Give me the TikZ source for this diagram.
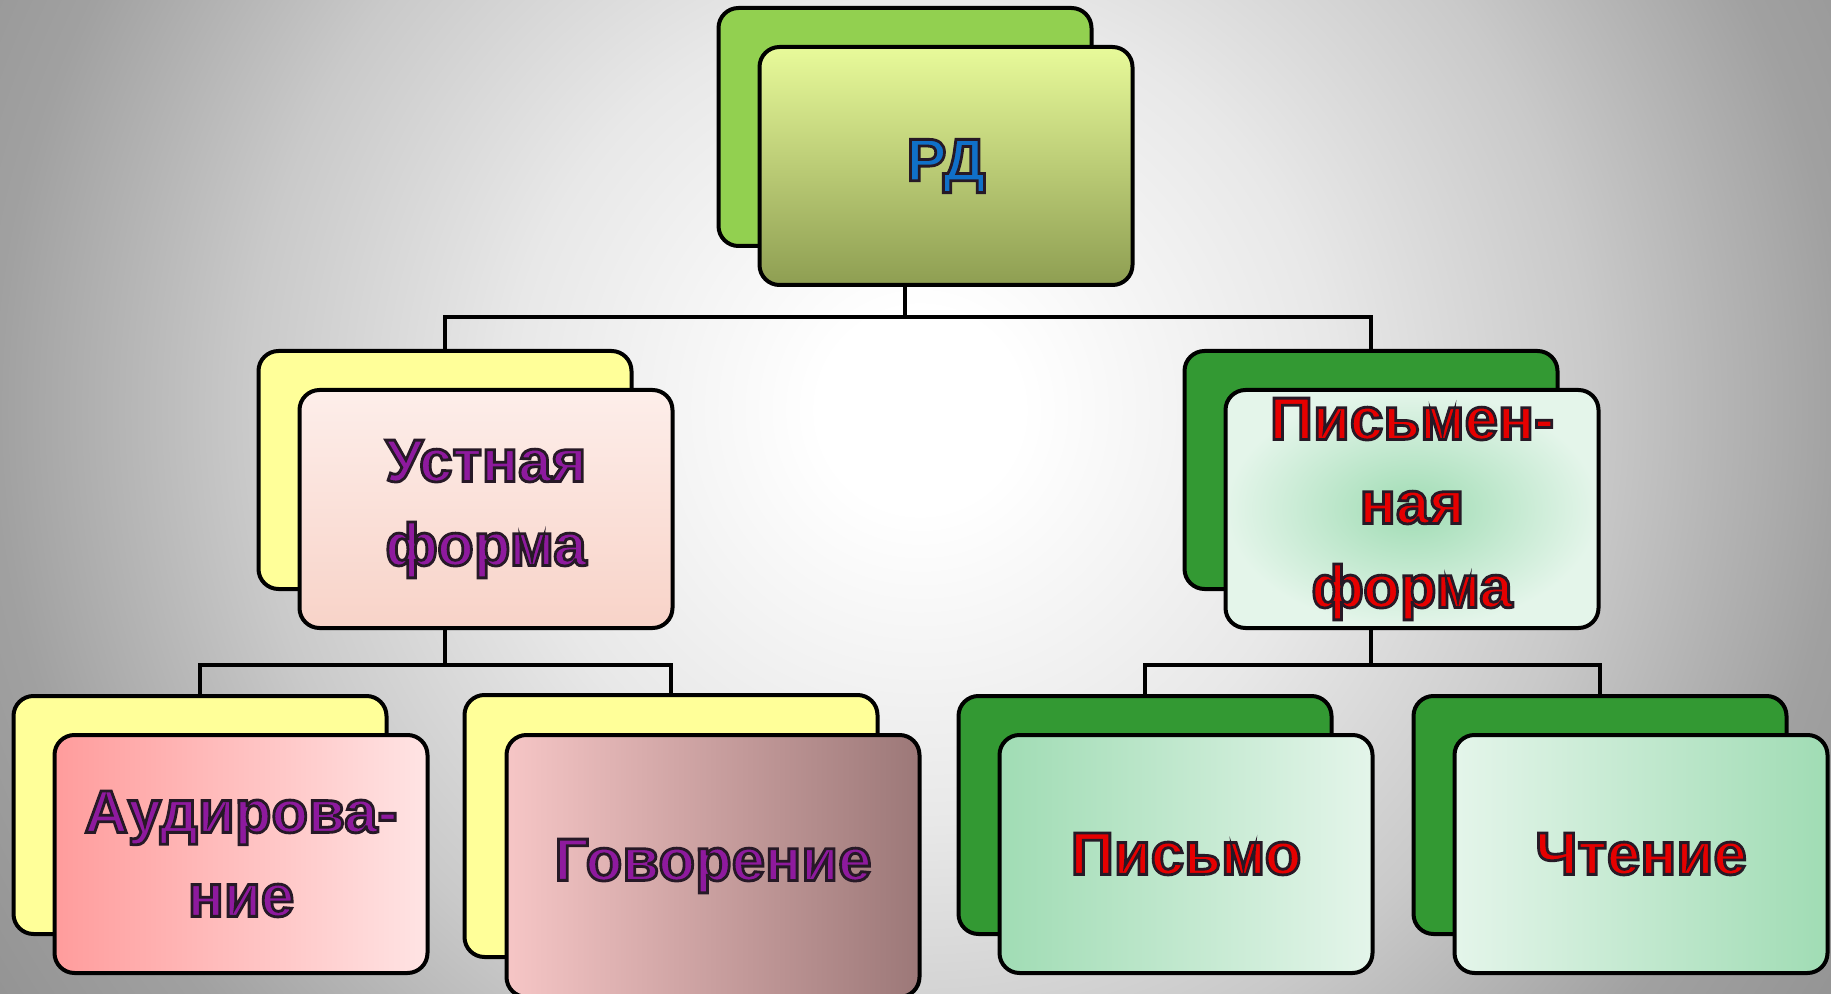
\documentclass[tikz,border=0pt]{standalone}
\usepackage{fontspec}
\setmainfont{Liberation Sans}
\usepackage{tikz}
\usetikzlibrary{shapes}
\usetikzlibrary{calc}
\definecolor{leafgreen}{HTML}{92D050}
\definecolor{darkgreen}{HTML}{339933}
\definecolor{paleyellow}{HTML}{FFFF99}
\definecolor{rdblue}{HTML}{1070C8}
\definecolor{violet}{HTML}{8E1A9E}
\definecolor{redtxt}{HTML}{E60000}
\definecolor{headtop}{HTML}{E8FA9A}
\definecolor{headbot}{HTML}{8E9E52}
\definecolor{peachtop}{HTML}{FDEEEA}
\definecolor{peachbot}{HTML}{F8D3C8}
\definecolor{rosel}{HTML}{FF9C9C}
\definecolor{roser}{HTML}{FFE4E4}
\definecolor{mauvel}{HTML}{F6C6C6}
\definecolor{mauver}{HTML}{9C7878}
\definecolor{mintdark}{HTML}{A0DCB4}
\definecolor{mintlight}{HTML}{E4F5EA}
\pgfdeclareradialshading{glow}{\pgfpoint{0bp}{0bp}}{color(0bp)=(white); color(50bp)=(white); color(205bp)=(black!9); color(335bp)=(black!21); color(460bp)=(black!37); color(560bp)=(black!43)}
\newcommand{\outl}[1]{\special{pdf:literal direct 2 Tr 1.4 w 0.15 0.1 0.15 RG}#1\special{pdf:literal direct 0 Tr}}
\tikzstyle{boite}=[
        draw,
        line width=2pt,
        rounded corners=10pt,
        minimum width=186.5pt,
        minimum height=119pt,
        inner sep=0pt,
        align=center,
        font=\bfseries\fontsize{30}{42}\selectfont
]
\tikzstyle{grande}=[minimum width=206.5pt,minimum height=131pt]
\tikzstyle{dosvert}=[boite,fill=leafgreen]
\tikzstyle{dosjaune}=[boite,fill=paleyellow]
\tikzstyle{dosfonce}=[boite,fill=darkgreen]
\tikzstyle{tete}=[boite,top color=headtop,bottom color=headbot,text=rdblue]
\tikzstyle{oral}=[boite,top color=peachtop,bottom color=peachbot,text=violet]
\tikzstyle{ecrit}=[boite,inner color=mintdark,outer color=mintlight,text=redtxt]
\tikzstyle{trait}=[line width=2pt,black]
\begin{document}
\begin{tikzpicture}[x=0.5pt,y=-0.5pt]
\useasboundingbox (0,0) rectangle (1831,994);
\begin{scope}
\clip (0,0) rectangle (1831,994);
\node[inner sep=0pt] (fond) at (920,410) {\pgfuseshading{glow}};
\end{scope}
\node[dosvert] (rdback) at (905,127) {};
\node[tete] (rd) at (946,166) {\outl{РД}};
\node[dosjaune] (ustnback) at (445,470) {};
\node[oral] (ustn) at (486,509) {\outl{Устная}\\\outl{форма}};
\node[dosfonce] (pismback) at (1371,470) {};
\node[ecrit] (pism) at (1412,509) {\outl{Письмен-}\\\outl{ная}\\\outl{форма}};
\node[dosjaune] (audback) at (200,815) {};
\node[boite,left color=rosel,right color=roser,text=violet] (aud) at (241,854) {\outl{Аудирова-}\\\outl{ние}};
\node[dosjaune,grande] (govback) at (671,826) {};
\node[boite,grande,left color=mauvel,right color=mauver,text=violet] (gov) at (713,866) {\outl{Говорение}};
\node[dosfonce] (pisback) at (1145,815) {};
\node[boite,left color=mintdark,right color=mintlight,text=redtxt] (pis) at (1186,854) {\outl{Письмо}};
\node[dosfonce] (chtback) at (1600,815) {};
\node[boite,left color=mintlight,right color=mintdark,text=redtxt] (cht) at (1641,854) {\outl{Чтение}};
%lines between boxes
\draw[trait] (rdback.south |- rd.south) -- ++(0,30) -| (ustnback.north);
\draw[trait] (rdback.south |- rd.south) -- ++(0,30) -| (pismback.north);
\draw[trait] (ustnback.south |- ustn.south) -- ++(0,35) -| (audback.north);
\draw[trait] (ustnback.south |- ustn.south) -- ++(0,35) -| (govback.north);
\draw[trait] (pismback.south |- pism.south) -- ++(0,35) -| (pisback.north);
\draw[trait] (pismback.south |- pism.south) -- ++(0,35) -| (chtback.north);
\end{tikzpicture}
\end{document}
